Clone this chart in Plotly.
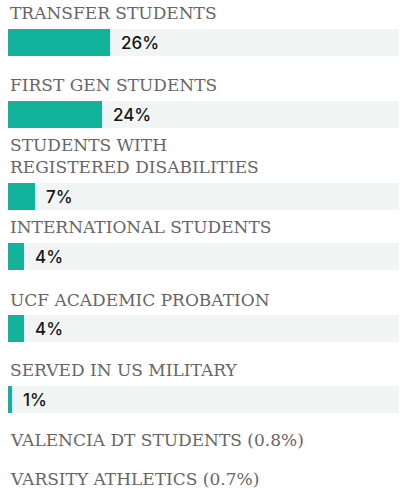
import plotly.graph_objects as go

# ---- data ----
bar_categories = [
    "TRANSFER STUDENTS",
    "FIRST GEN STUDENTS",
    "STUDENTS WITH<br>REGISTERED DISABILITIES",
    "INTERNATIONAL STUDENTS",
    "UCF ACADEMIC PROBATION",
    "SERVED IN US MILITARY",
]
bar_values = [26, 24, 7, 4, 4, 1]
text_only_categories = ["VALENCIA DT STUDENTS", "VARSITY ATHLETICS"]
text_only_values = [0.8, 0.7]
axis_max = 100

# ---- layout (pixel rows, top-down) ----
W, H = 403, 489
bar_centers = [42.5, 114.5, 196.5, 256.5, 328.5, 399.5]
bar_label_centers = [13, 85, 155.5, 227, 300, 370]
text_only_centers = [440, 479]
bar_height = 27

TEAL = "#12b39a"
TRACK = "#f1f6f4"
LABEL_GREY = "#666666"
LABEL_FONT = dict(family="DejaVu Serif", size=17, color=LABEL_GREY)
NUM_FONT = dict(family="Inter", size=17, color="#151515", weight=500)

fig = go.Figure()
fig.add_trace(go.Bar(
    x=[axis_max] * len(bar_values), y=bar_centers, orientation="h",
    width=bar_height, marker=dict(color=TRACK, line=dict(width=0)),
    hoverinfo="skip", showlegend=False,
))
fig.add_trace(go.Bar(
    x=bar_values, y=bar_centers, orientation="h",
    width=bar_height, marker=dict(color=TEAL, line=dict(width=0)),
    hoverinfo="skip", showlegend=False,
))

annotations = []
for cat, yc in zip(bar_categories, bar_label_centers):
    annotations.append(dict(
        x=0, y=yc, xref="x", yref="y", text=cat, showarrow=False,
        xanchor="left", yanchor="middle", align="left", font=LABEL_FONT,
    ))
for v, yc in zip(bar_values, bar_centers):
    annotations.append(dict(
        x=v, y=yc, xref="x", yref="y", text=f"{v}%", showarrow=False,
        xanchor="left", yanchor="middle", xshift=9, font=NUM_FONT,
    ))
for cat, v, yc in zip(text_only_categories, text_only_values, text_only_centers):
    annotations.append(dict(
        x=0, y=yc, xref="x", yref="y", text=f"{cat} ({v}%)", showarrow=False,
        xanchor="left", yanchor="middle", align="left", font=LABEL_FONT,
    ))

fig.update_layout(
    width=W, height=H,
    margin=dict(l=0, r=0, t=0, b=0),
    paper_bgcolor="white", plot_bgcolor="white",
    barmode="overlay", bargap=0,
    annotations=annotations,
    xaxis=dict(range=[0, axis_max], domain=[8 / W, 399 / W], visible=False, fixedrange=True),
    yaxis=dict(range=[H, 0], domain=[0, 1], visible=False, fixedrange=True),
)

fig.write_html(
    "out.html",
    config={"displayModeBar": False},
    post_script="document.body.style.margin='0';document.body.style.overflow='hidden';",
)
